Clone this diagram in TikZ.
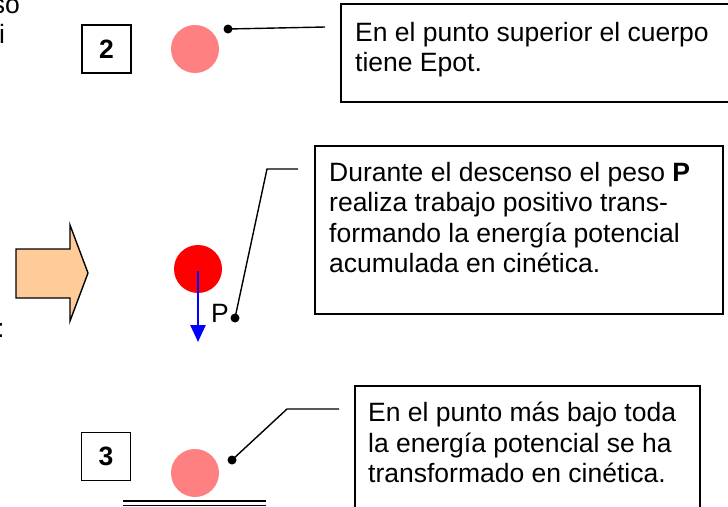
\documentclass[tikz,border=0pt]{standalone}
\usepackage{fontspec}
\setmainfont{Liberation Sans}
\usetikzlibrary{arrows.meta}
\definecolor{ballpink}{RGB}{255,128,128}
\definecolor{ballred}{RGB}{255,0,0}
\definecolor{peach}{RGB}{255,204,153}
\definecolor{forceblue}{RGB}{0,0,255}
\tikzset{
  frame/.style={draw=black, line width=1.6pt, inner sep=0pt, anchor=north west},
  txt/.style={align=left, anchor=north west, inner sep=0pt},
  numbox/.style={draw=black, line width=1.6pt, minimum width=49pt, minimum height=48pt, inner sep=0pt, font=\fontsize{26.5}{30.3}\selectfont\bfseries},
  ball/.style={circle, minimum size=48pt, inner sep=0pt},
  leader/.style={draw=black, line width=1.4pt},
  dot/.style={fill=black},
}
\begin{document}
\begin{tikzpicture}[x=1pt, y=-1pt, font=\fontsize{26.5}{30.3}\selectfont]
\clip (0,0) rectangle (728,506);
% cut-off text at the left edge
\node[anchor=base east, inner sep=0pt] (lt1) at (20,13) {so};
\node[anchor=base west, inner sep=0pt] (lt2) at (-1,43) {i};
\node[anchor=base west, inner sep=0pt] (lt3) at (-3,337) {:};
% block arrow
\draw[fill=peach, line width=1.4pt, line join=miter] (16,249) -- (70,249) -- (70,225) -- (88,273) -- (70,321) -- (70,298) -- (16,298) -- cycle;
% number boxes
\node[numbox] (n2) at (106.5,49) {2};
\node[numbox] (n3) at (106,456.5) {3};
% balls
\node[ball, fill=ballpink] (b2) at (195,49) {};
\node[ball, fill=ballred] (b1) at (198,269) {};
\node[ball, fill=ballpink] (b3) at (195,473) {};
% ground
\coordinate (g1) at (123,501);
\coordinate (g2) at (266,501);
\coordinate (g3) at (123,505.5);
\coordinate (g4) at (266,505.5);
\draw[line width=1.4pt] (g1) -- (g2);
\draw[line width=1.4pt] (g3) -- (g4);
% weight arrow
\coordinate (pend) at (198,342);
\draw[forceblue, line width=2.5pt, -{Triangle[length=17pt,width=15pt]}] (b1.center) ++(0,2) -- (pend);
\node[anchor=base west, inner sep=0pt] (plab) at (211,322) {P};
% text boxes
\node[frame, minimum width=400pt, minimum height=98pt] (f2) at (340,3) {};
\node[frame, minimum width=408pt, minimum height=168pt] (f1) at (314,145) {};
\node[frame, minimum width=345pt, minimum height=140pt] (f3) at (354,385) {};
\node[txt] (t2) at (355,22) {En el punto superior el cuerpo\\tiene Epot.};
\node[txt] (t1) at (329,162) {Durante el descenso el peso \textbf{P}\\realiza trabajo positivo trans-\\formando la energía potencial\\acumulada en cinética.};
\node[txt] (t3) at (368,402) {En el punto más bajo toda\\la energía potencial se ha\\transformado en cinética.};
% leaders
\coordinate (d2) at (228,29);
\coordinate (e2) at (325,27);
\coordinate (d1) at (235,318);
\coordinate (k1) at (267,169);
\coordinate (e1) at (298,169);
\coordinate (d3) at (232,460);
\coordinate (k3) at (287,409);
\coordinate (e3) at (339,409);
\draw[leader] (d2) -- (e2);
\draw[leader] (d1) -- (k1) -- (e1);
\draw[leader] (d3) -- (k3) -- (e3);
\fill[dot] (d2) circle (4.5pt);
\fill[dot] (d1) circle (4.5pt);
\fill[dot] (d3) circle (4.5pt);
\end{tikzpicture}
\end{document}
